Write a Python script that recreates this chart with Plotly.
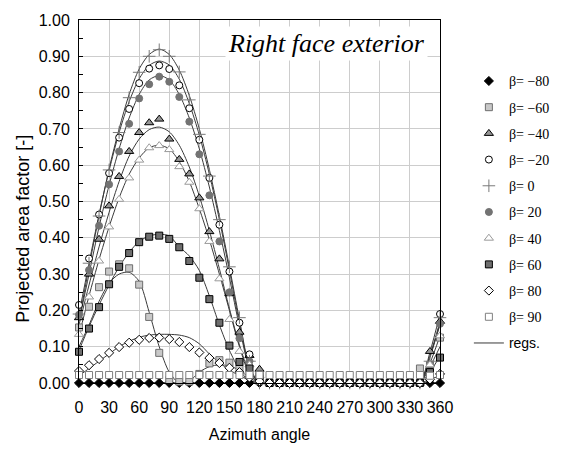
import plotly.graph_objects as go

# ---------------- data ----------------
ANGLES = [0, 10, 20, 30, 40, 50, 60, 70, 80, 90, 100, 110, 120, 130, 140, 150, 160, 170, 180,
          190, 200, 210, 220, 230, 240, 250, 260, 270, 280, 290, 300, 310, 320, 330, 340, 350, 360]
X_TICKS = [0, 30, 60, 90, 120, 150, 180, 210, 240, 270, 300, 330, 360]
Z15 = [0, 0, 0, 0, 0, 0, 0, 0, 0, 0, 0, 0, 0, 0, 0]  # 190..330

BETA_LABELS = ["β= −80", "β= −60", "β= −40", "β= −20", "β= 0",
               "β= 20", "β= 40", "β= 60", "β= 80", "β= 90"]

B_M80 = [0, 0, 0, 0, 0, 0, 0, 0, 0, 0, 0, 0, 0, 0, 0, 0, 0, 0, 0] + Z15 + [0, 0, 0]
B_M60 = [0.153, 0.21, 0.264, 0.307, 0.327, 0.316, 0.271, 0.182, 0.083, 0.008, 0.004, 0.004, 0.025,
         0.054, 0.063, 0.056, 0.04, 0.02, 0.005] + Z15 + [0.04, 0.05, 0.125]
B_M40 = [0.18, 0.30, 0.396, 0.488, 0.569, 0.638, 0.69, 0.717, 0.727, 0.672, 0.616, 0.576, 0.51,
         0.417, 0.342, 0.246, 0.14, 0.076, 0.038] + Z15 + [0.0, 0.087, 0.17]
B_M20 = [0.215, 0.343, 0.464, 0.578, 0.676, 0.755, 0.826, 0.866, 0.875, 0.865, 0.82, 0.757, 0.67,
         0.565, 0.436, 0.307, 0.166, 0.079, 0.01] + Z15 + [0.0, 0.03, 0.19]
B_0 = [0.19, 0.33, 0.46, 0.587, 0.69, 0.786, 0.856, 0.90, 0.918, 0.90, 0.857, 0.78, 0.685,
       0.57, 0.45, 0.32, 0.18, 0.06, 0.0] + Z15 + [0.0, 0.06, 0.18]
B_20 = [0.188, 0.311, 0.433, 0.547, 0.638, 0.714, 0.784, 0.823, 0.844, 0.83, 0.788, 0.72, 0.63,
        0.517, 0.39, 0.25, 0.123, 0.06, 0.02] + Z15 + [0.0, 0.05, 0.163]
B_40 = [0.134, 0.237, 0.336, 0.43, 0.506, 0.565, 0.614, 0.648, 0.654, 0.643, 0.596, 0.553, 0.48,
        0.39, 0.287, 0.175, 0.087, 0.05, 0.02] + Z15 + [0.0, 0.05, 0.13]
B_60 = [0.086, 0.15, 0.209, 0.272, 0.32, 0.358, 0.388, 0.403, 0.406, 0.397, 0.374, 0.336, 0.29,
        0.231, 0.166, 0.103, 0.058, 0.04, 0.02] + Z15 + [0.0, 0.03, 0.07]
B_80 = [0.033, 0.049, 0.066, 0.083, 0.099, 0.111, 0.119, 0.124, 0.125, 0.121, 0.113, 0.099, 0.084,
        0.069, 0.055, 0.042, 0.03, 0.015, 0.005] + Z15 + [0.0, 0.01, 0.025]
B_90 = [0.022, 0.022, 0.022, 0.022, 0.022, 0.022, 0.022, 0.022, 0.022, 0.022, 0.022, 0.022, 0.022,
        0.022, 0.022, 0.022, 0.022, 0.022, 0.022,
        0.022, 0.022, 0.022, 0.022, 0.022, 0.022, 0.022, 0.022, 0.022, 0.022, 0.022, 0.022, 0.022,
        0.022, 0.022, 0.022, 0.02, 0.022]

# regression curves
R_M80 = [0, 0, 0, 0, 0, 0, 0, 0, 0, 0, 0, 0, 0, 0, 0, 0, 0, 0, 0] + Z15 + [0, 0, 0]
R_M60 = [0.10, 0.16, 0.225, 0.275, 0.30, 0.305, 0.28, 0.195, 0.10, 0.03, 0.0, 0.005, 0.03,
         0.045, 0.05, 0.047, 0.035, 0.015, 0.0] + Z15 + [0.0, 0.045, 0.10]
R_M40 = [0.16, 0.27, 0.375, 0.47, 0.555, 0.625, 0.672, 0.698, 0.705, 0.692, 0.655, 0.595, 0.515,
         0.42, 0.315, 0.205, 0.105, 0.03, 0.0] + Z15 + [0.0, 0.075, 0.16]
R_M20 = [0.19, 0.33, 0.465, 0.585, 0.69, 0.775, 0.838, 0.875, 0.887, 0.876, 0.837, 0.77, 0.683,
         0.575, 0.45, 0.31, 0.165, 0.045, 0.0] + Z15 + [0.0, 0.085, 0.19]
R_0 = [0.17, 0.32, 0.46, 0.59, 0.70, 0.795, 0.865, 0.905, 0.92, 0.905, 0.862, 0.792, 0.70,
       0.588, 0.46, 0.32, 0.175, 0.045, 0.0] + Z15 + [0.0, 0.075, 0.17]
R_20 = [0.17, 0.30, 0.43, 0.545, 0.645, 0.73, 0.795, 0.835, 0.847, 0.835, 0.795, 0.73, 0.645,
        0.54, 0.42, 0.29, 0.155, 0.04, 0.0] + Z15 + [0.0, 0.07, 0.165]
R_40 = [0.13, 0.24, 0.34, 0.43, 0.51, 0.575, 0.62, 0.648, 0.655, 0.645, 0.61, 0.555, 0.48,
        0.395, 0.30, 0.20, 0.10, 0.025, 0.0] + Z15 + [0.0, 0.055, 0.13]
R_60 = [0.09, 0.155, 0.215, 0.27, 0.32, 0.36, 0.39, 0.405, 0.41, 0.405, 0.375, 0.35, 0.31,
        0.24, 0.16, 0.09, 0.037, 0.005, 0.0] + Z15 + [0.0, 0.03, 0.075]
R_80 = [0.02, 0.04, 0.06, 0.08, 0.10, 0.115, 0.126, 0.132, 0.134, 0.134, 0.132, 0.125, 0.108,
        0.08, 0.056, 0.036, 0.02, 0.008, 0.0] + Z15 + [0.0, 0.01, 0.02]

SERIES = [B_M80, B_M60, B_M40, B_M20, B_0, B_20, B_40, B_60, B_80, B_90]
REGS = [R_M80, R_M60, R_M40, R_M20, R_0, R_20, R_40, R_60, R_80]

# ---------------- styles ----------------
STYLES = [
    dict(symbol="diamond", size=7, color="black", line=dict(color="black", width=1)),
    dict(symbol="square", size=7, color="#C8C8C8", line=dict(color="#6E6E6E", width=1)),
    dict(symbol="triangle-up", size=8, color="#969696", line=dict(color="black", width=1)),
    dict(symbol="circle", size=7, color="white", line=dict(color="black", width=1)),
    dict(symbol="cross-thin", size=9, color="#7A7A7A", line=dict(color="#7A7A7A", width=1)),
    dict(symbol="circle", size=7, color="#737373", line=dict(color="#737373", width=1)),
    dict(symbol="triangle-up", size=8, color="white", line=dict(color="#9A9A9A", width=1)),
    dict(symbol="square", size=7, color="#6E6E6E", line=dict(color="black", width=1)),
    dict(symbol="diamond", size=7, color="white", line=dict(color="black", width=1)),
    dict(symbol="square", size=7, color="white", line=dict(color="#808080", width=1)),
]

fig = go.Figure()

for i, r in enumerate(REGS):
    fig.add_trace(go.Scatter(
        x=ANGLES, y=r, mode="lines",
        line=dict(color="#3A3A3A", width=1, shape="spline", smoothing=0.8),
        name='<span style="font-family:Liberation Sans">regs.</span>',
        showlegend=(i == 0), legendgroup="regs", legendrank=20,
        hoverinfo="skip", cliponaxis=False,
    ))

for i, (lab, ys, st) in enumerate(zip(BETA_LABELS, SERIES, STYLES)):
    fig.add_trace(go.Scatter(
        x=ANGLES, y=ys, mode="markers", name=lab,
        marker=st, legendgroup=f"g{i}", legendrank=i + 1, cliponaxis=False,
    ))

AX_FONT = dict(family="Liberation Sans, Arial", size=16, color="black")

fig.update_layout(
    width=567, height=452,
    margin=dict(l=79, r=120, t=13, b=67),
    plot_bgcolor="white", paper_bgcolor="white",
    legend=dict(x=1.08, y=0.875, xanchor="left", yanchor="top",
                font=dict(family="Liberation Serif, Times New Roman", size=14, color="black"),
                bgcolor="rgba(0,0,0,0)", tracegroupgap=5, itemwidth=30),
    annotations=[
        dict(text="<i>Right face exterior</i>", xref="paper", yref="paper",
             x=0.685, y=0.935, xanchor="center", yanchor="middle", showarrow=False,
             font=dict(family="Liberation Serif, Times New Roman", size=26, color="black"),
             bgcolor="white", borderpad=2),
        dict(text="Projected area factor [-]", xref="paper", yref="paper",
             x=-0.155, y=0.425, xanchor="center", yanchor="middle", showarrow=False,
             textangle=-90, font=dict(family="Liberation Sans, Arial", size=18, color="black")),
    ],
)

fig.update_xaxes(
    range=[0, 360], tickmode="array", tickvals=X_TICKS,
    showgrid=True, gridcolor="#CDCDCD", gridwidth=1.2, zeroline=False,
    showline=True, linecolor="black", linewidth=1, mirror=True, ticks="",
    tickfont=AX_FONT, ticklabelstandoff=10,
    title=dict(text="Azimuth angle", font=AX_FONT, standoff=13),
)
fig.update_yaxes(
    range=[0, 1], dtick=0.1, tickformat=".2f",
    showgrid=True, gridcolor="#CDCDCD", gridwidth=1.2, zeroline=False,
    showline=True, linecolor="black", linewidth=1, mirror=True,
    ticks="inside", ticklen=4, tickcolor="black",
    minor=dict(dtick=0.05, ticks="inside", ticklen=4, tickcolor="black", showgrid=False),
    tickfont=AX_FONT, ticklabelstandoff=5,
)

fig.write_html("out.html")
